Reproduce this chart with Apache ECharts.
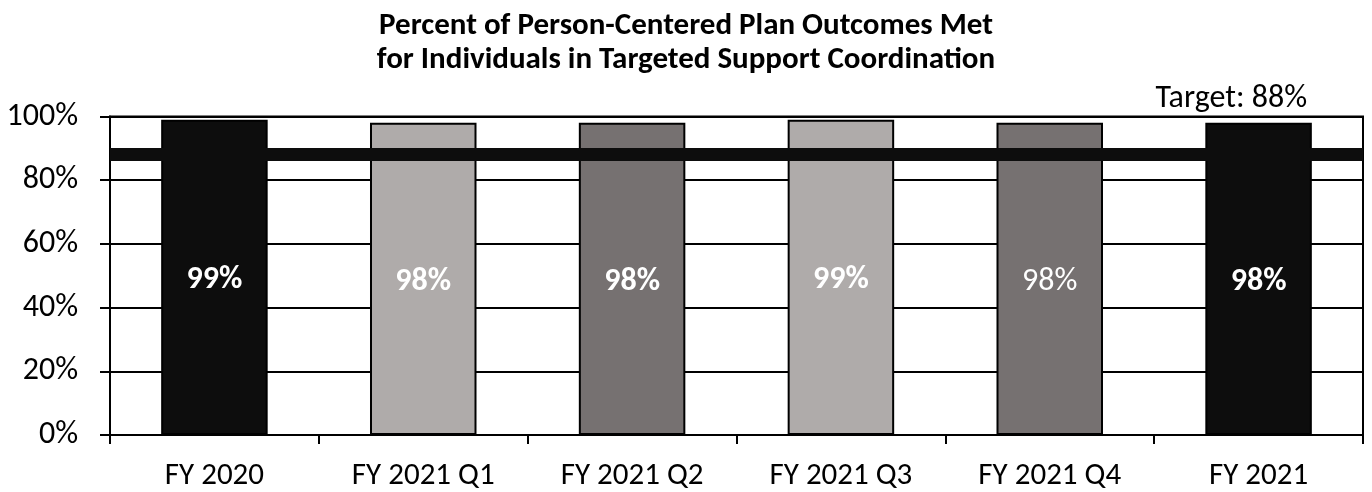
<!DOCTYPE html>
<html>
<head>
<meta charset="utf-8">
<script src="https://cdn.jsdelivr.net/npm/echarts@6/dist/echarts.min.js"></script>
<style>
  html, body { margin: 0; padding: 0; background: #fff; }
  #chart { width: 1372px; height: 492px; }
</style>
</head>
<body>
<div id="chart"></div>
<script>
// Reporting periods and share of plan outcomes met
const categories = ['FY 2020', 'FY 2021 Q1', 'FY 2021 Q2', 'FY 2021 Q3', 'FY 2021 Q4', 'FY 2021'];
const outcomesMet = [0.99, 0.98, 0.98, 0.99, 0.98, 0.98];
const barColors = ['#0d0d0d', '#afabaa', '#767171', '#afabaa', '#767171', '#0d0d0d'];
const labelBold = [true, true, true, true, false, true];
const targetValue = 0.88;
const yTicks = [0, 0.2, 0.4, 0.6, 0.8, 1.0];

const FONT = 'Carlito, Lato, sans-serif';
const pct = v => Math.round(v * 100) + '%';

const chart = echarts.init(document.getElementById('chart'), null, { renderer: 'canvas' });

chart.setOption({
  animation: false,
  backgroundColor: '#fff',
  title: {
    text: 'Percent of Person-Centered Plan Outcomes Met\nfor Individuals in Targeted Support Coordination',
    left: 'center',
    top: 4,
    textStyle: {
      fontFamily: FONT,
      fontWeight: 'bold',
      fontSize: 31,
      lineHeight: 34,
      color: '#000'
    }
  },
  grid: {
    left: 110,
    right: 9,
    top: 116.5,
    bottom: 55.5,
    show: true,
    borderColor: '#000',
    borderWidth: 2,
    containLabel: false
  },
  xAxis: {
    type: 'category',
    data: categories,
    boundaryGap: true,
    axisLine: { show: true, lineStyle: { color: '#000', width: 2 } },
    axisTick: { show: true, alignWithLabel: false, length: 9, lineStyle: { color: '#000', width: 2 } },
    axisLabel: {
      fontFamily: FONT,
      fontSize: 31,
      color: '#000',
      margin: 26
    },
    splitLine: { show: false }
  },
  yAxis: {
    type: 'value',
    min: yTicks[0],
    max: yTicks[yTicks.length - 1],
    interval: 0.2,
    axisLine: { show: true, lineStyle: { color: '#000', width: 2 } },
    axisTick: { show: true, length: 10, lineStyle: { color: '#000', width: 2 } },
    axisLabel: {
      fontFamily: FONT,
      fontSize: 32,
      color: '#000',
      margin: 32,
      formatter: v => pct(v)
    },
    splitLine: { show: true, lineStyle: { color: '#000', width: 2 } }
  },
  series: [{
    type: 'bar',
    barWidth: '51%',
    data: outcomesMet.map((v, i) => ({
      value: v,
      itemStyle: { color: barColors[i] },
      label: { fontWeight: labelBold[i] ? 'bold' : 'normal' }
    })),
    itemStyle: { borderColor: '#000', borderWidth: 2 },
    label: {
      show: true,
      position: 'inside',
      offset: [0, 3],
      color: '#fff',
      fontFamily: FONT,
      fontSize: 32,
      formatter: p => pct(p.value)
    },
    markLine: {
      silent: true,
      symbol: 'none',
      data: [{ yAxis: targetValue }],
      lineStyle: { color: '#0d0d0d', width: 13, type: 'solid' },
      label: {
        show: true,
        position: 'insideEndTop',
        distance: [56, 40],
        fontFamily: FONT,
        fontSize: 32,
        color: '#000',
        formatter: () => 'Target: ' + pct(targetValue)
      }
    }
  }]
});
</script>
</body>
</html>
